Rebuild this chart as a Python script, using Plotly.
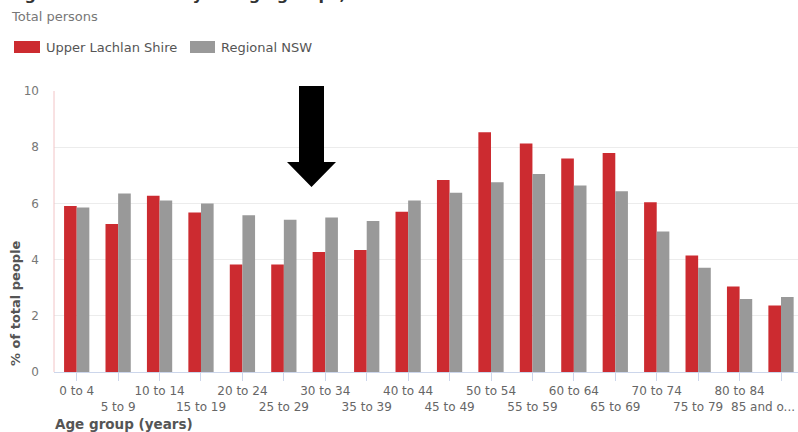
import plotly.graph_objects as go

categories = ["0 to 4", "5 to 9", "10 to 14", "15 to 19", "20 to 24", "25 to 29",
              "30 to 34", "35 to 39", "40 to 44", "45 to 49", "50 to 54", "55 to 59",
              "60 to 64", "65 to 69", "70 to 74", "75 to 79", "80 to 84", "85 and o..."]
upper_lachlan = [5.91, 5.27, 6.27, 5.68, 3.83, 3.83, 4.27, 4.34, 5.70, 6.83,
                 8.53, 8.13, 7.60, 7.79, 6.04, 4.15, 3.04, 2.37]
regional_nsw = [5.85, 6.35, 6.10, 6.00, 5.58, 5.42, 5.50, 5.37, 6.10, 6.38,
                6.75, 7.05, 6.64, 6.43, 5.00, 3.71, 2.60, 2.67]
y_ticks = [0, 2, 4, 6, 8, 10]

RED = "#cc2b30"
GRAY = "#999999"
FONT = "DejaVu Sans"

x_idx = list(range(len(categories)))
# last label is shifted left to fit inside the frame (drawn as an annotation below)
tick_text = [c if i % 2 == 0 else "<br>" + c for i, c in enumerate(categories)]
tick_text[-1] = ""

fig = go.Figure()
fig.add_trace(go.Bar(x=x_idx, y=upper_lachlan, name="Upper Lachlan Shire",
                     marker=dict(color=RED, line=dict(width=0)), showlegend=False))
fig.add_trace(go.Bar(x=x_idx, y=regional_nsw, name="Regional NSW",
                     marker=dict(color=GRAY, line=dict(width=0)), showlegend=False))

W, H = 798, 432
L, R, T, B = 54, 0, 91, 60
pw, ph = W - L - R, H - T - B


def px(x):
    return (x - L) / pw


def py(y):
    return (H - B - y) / ph


shapes = []
annotations = []

# Legend
shapes.append(dict(type="rect", xref="paper", yref="paper", x0=px(14), x1=px(40),
                   y0=py(53), y1=py(41), fillcolor=RED, line=dict(width=0)))
shapes.append(dict(type="rect", xref="paper", yref="paper", x0=px(190), x1=px(215),
                   y0=py(53), y1=py(41), fillcolor=GRAY, line=dict(width=0)))
annotations.append(dict(xref="paper", yref="paper", x=px(44), y=py(47), xanchor="left",
                        yanchor="middle", showarrow=False, text="Upper Lachlan Shire",
                        font=dict(family=FONT, size=13, color="#555555")))
annotations.append(dict(xref="paper", yref="paper", x=px(219), y=py(47), xanchor="left",
                        yanchor="middle", showarrow=False, text="Regional NSW",
                        font=dict(family=FONT, size=13, color="#555555")))

# Title (cut off at top) and subtitle
annotations.append(dict(xref="paper", yref="paper", x=px(10), y=py(6), xanchor="left",
                        yanchor="bottom", showarrow=False,
                        text="<b>Age structure - five year age groups, 2021</b>",
                        font=dict(family=FONT, size=16, color="#333333")))
annotations.append(dict(xref="paper", yref="paper", x=px(9), y=py(17), xanchor="left",
                        yanchor="middle", showarrow=False, text="Total persons",
                        font=dict(family=FONT, size=13, color="#777777")))

# Last x tick label, kept inside the frame
annotations.append(dict(xref="paper", yref="paper", x=px(797), y=py(407), xanchor="right",
                        yanchor="middle", showarrow=False, text=categories[-1],
                        font=dict(family=FONT, size=12, color="#666666")))

# Axis titles
annotations.append(dict(xref="paper", yref="paper", x=px(15), y=py(303), xanchor="center",
                        yanchor="middle", showarrow=False, textangle=-90,
                        text="<b>% of total people</b>",
                        font=dict(family=FONT, size=13, color="#555555")))
annotations.append(dict(xref="paper", yref="paper", x=px(53), y=py(424), xanchor="left",
                        yanchor="middle", showarrow=False,
                        text="<b>Age group (years)</b>",
                        font=dict(family=FONT, size=13.5, color="#555555")))

# Big black arrow
arrow_path = "M {a},{t} L {b},{t} L {b},{h} L {c},{h} L {m},{tip} L {d},{h} L {a},{h} Z".format(
    a=px(299), b=px(324), t=py(86), h=py(162), c=px(336), d=px(287), m=px(311.5), tip=py(187))
shapes.append(dict(type="path", xref="paper", yref="paper", path=arrow_path,
                   fillcolor="black", line=dict(width=0)))

# pinkish y axis line
shapes.append(dict(type="line", xref="paper", yref="paper", x0=0, x1=0, y0=0, y1=1,
                   line=dict(color="#f2c4c6", width=1)))

fig.update_layout(
    width=W, height=H,
    margin=dict(l=L, r=R, t=T, b=B, pad=0, autoexpand=False),
    paper_bgcolor="white", plot_bgcolor="white",
    barmode="group", bargap=0.39, bargroupgap=0.0,
    font=dict(family=FONT, color="#666666"),
    shapes=shapes, annotations=annotations,
    xaxis=dict(tickmode="array", tickvals=x_idx, ticktext=tick_text,
               range=[-0.548, 17.41], showgrid=False, zeroline=False,
               showline=True, linecolor="#ccd6eb", linewidth=1,
               ticks="outside", ticklen=8, tickcolor="#ccd6eb", tickangle=0,
               ticklabeloverflow="allow", automargin=False,
               tickfont=dict(family=FONT, size=12, color="#666666")),
    yaxis=dict(range=[0, 10], tickvals=y_ticks, showgrid=True, gridcolor="#ececec",
               zeroline=False, showline=False, ticks="", ticklabelstandoff=14,
               automargin=False,
               tickfont=dict(family=FONT, size=12, color="#777777")),
)

fig.write_html("out.html")
